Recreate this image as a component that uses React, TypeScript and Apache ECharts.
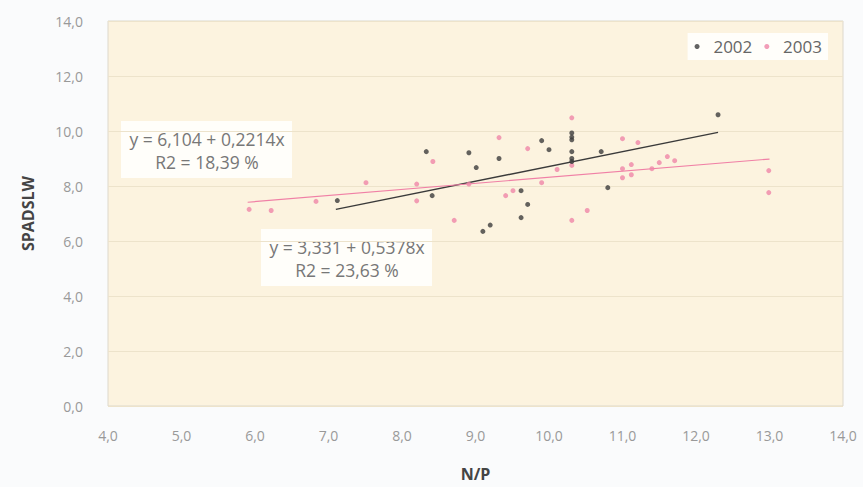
import React, { useEffect, useRef } from "react";
import * as echarts from "echarts";

// N/P (x) and SPADSLW (y) readings
const data2002: number[][] = [
  [7.12, 7.47], [8.33, 9.25], [8.41, 7.65], [8.91, 9.21], [9.01, 8.67],
  [9.10, 6.35], [9.20, 6.58], [9.32, 9.0], [9.62, 7.83], [9.71, 7.33],
  [9.62, 6.85], [9.90, 9.65], [10.0, 9.32], [10.31, 9.93], [10.31, 9.78],
  [10.31, 9.68], [10.31, 9.25], [10.31, 9.0], [10.31, 8.89], [10.71, 9.25],
  [10.80, 7.94], [12.30, 10.59],
];
const data2003: number[][] = [
  [5.92, 7.15], [6.22, 7.11], [6.83, 7.44], [7.51, 8.12], [8.20, 8.07],
  [8.20, 7.46], [8.42, 8.89], [8.71, 6.75], [8.91, 8.07], [9.32, 9.76],
  [9.41, 7.65], [9.51, 7.83], [9.71, 9.36], [9.90, 8.12], [10.11, 8.6],
  [10.31, 10.48], [10.31, 8.75], [10.31, 6.75], [10.52, 7.11], [11.0, 9.72],
  [11.21, 9.58], [11.0, 8.63], [11.12, 8.78], [11.0, 8.3], [11.12, 8.41],
  [11.40, 8.63], [11.50, 8.85], [11.61, 9.07], [11.71, 8.92], [12.99, 8.56],
  [12.99, 7.76],
];
// fitted line end points
const fit2002: number[][] = [[7.1, 7.15], [12.3, 9.95]];
const fit2003: number[][] = [[5.9, 7.41], [13.0, 8.98]];

const seriesNames = ["2002", "2003"];
const eq2003 = ["y = 6,104 + 0,2214x", "R2 = 18,39 %"];
const eq2002 = ["y = 3,331 + 0,5378x", "R2 = 23,63 %"];

const FONT = "'Open Sans', 'Noto Sans', sans-serif";
const fmt = (v: number) => v.toFixed(1).replace(".", ",");

export default function App() {
  const ref = useRef<HTMLDivElement>(null);
  useEffect(() => {
    if (!ref.current) return;
    const chart = echarts.init(ref.current, undefined, { renderer: "svg" });
    const eqText = (x: number, y: number, lines: string[]) => ({
      type: "group",
      children: [
        {
          type: "rect",
          shape: { x: x - 86, y: y - 29, width: 171, height: 57 },
          style: { fill: "rgba(255,255,255,0.85)" },
        },
        {
          type: "text",
          x,
          y: y - 11,
          style: {
            text: lines[0],
            font: `17.5px ${FONT}`,
            fill: "#777",
            align: "center",
            verticalAlign: "middle",
          },
        },
        {
          type: "text",
          x,
          y: y + 12,
          style: {
            text: lines[1],
            font: `17.5px ${FONT}`,
            fill: "#777",
            align: "center",
            verticalAlign: "middle",
          },
        },
      ],
    });
    chart.setOption({
      animation: false,
      backgroundColor: "#fafbfc",
      textStyle: { fontFamily: FONT },
      grid: {
        left: 108,
        right: 20,
        top: 21,
        bottom: 80,
        show: true,
        backgroundColor: "#fcf3df",
        borderColor: "#ddd8cc",
        borderWidth: 1,
      },
      legend: {
        data: seriesNames,
        right: 35,
        top: 33,
        backgroundColor: "rgba(255,255,255,0.85)",
        padding: [5, 6, 5, 7],
        itemWidth: 5,
        itemHeight: 5,
        itemGap: 12,
        icon: "circle",
        formatter: (name: string) => "  " + name,
        textStyle: { fontSize: 17, color: "#666", fontFamily: FONT },
      },
      xAxis: {
        type: "value",
        min: 4,
        max: 14,
        interval: 1,
        name: "N/P",
        nameLocation: "middle",
        nameGap: 60,
        nameTextStyle: { fontSize: 16, fontWeight: "bold", color: "#444", fontFamily: FONT },
        axisLine: { show: false },
        axisTick: { show: false },
        splitLine: { show: false },
        axisLabel: { formatter: fmt, color: "#999", fontSize: 14, margin: 22, fontFamily: FONT },
      },
      yAxis: {
        type: "value",
        min: 0,
        max: 14,
        interval: 2,
        name: "SPADSLW",
        nameLocation: "middle",
        nameRotate: 90,
        nameGap: 72,
        nameTextStyle: { fontSize: 16, fontWeight: "bold", color: "#444", fontFamily: FONT },
        axisLine: { show: false },
        axisTick: { show: false },
        splitLine: { show: true, lineStyle: { color: "#ede3cb", width: 1 } },
        axisLabel: { formatter: fmt, color: "#999", fontSize: 14, margin: 25, fontFamily: FONT },
      },
      series: [
        {
          name: "2002",
          type: "scatter",
          data: data2002,
          symbol: "circle",
          symbolSize: 5,
          itemStyle: { color: "#3c3c3c" },
          z: 4,
        },
        {
          name: "2003",
          type: "scatter",
          data: data2003,
          symbol: "circle",
          symbolSize: 5,
          itemStyle: { color: "#ef86a8" },
          z: 3,
        },
        {
          name: "fit2002",
          type: "line",
          data: fit2002,
          symbol: "none",
          lineStyle: { color: "#3a3a3a", width: 1.4 },
          z: 2,
        },
        {
          name: "fit2003",
          type: "line",
          data: fit2003,
          symbol: "none",
          lineStyle: { color: "#f080a6", width: 1.2 },
          z: 2,
        },
      ],
      graphic: [eqText(207, 150, eq2003), eqText(347, 258, eq2002)],
    });
    return () => chart.dispose();
  }, []);
  return (
    <div
      ref={ref}
      style={{ position: "fixed", left: 0, top: 0, width: 863, height: 487 }}
    />
  );
}
